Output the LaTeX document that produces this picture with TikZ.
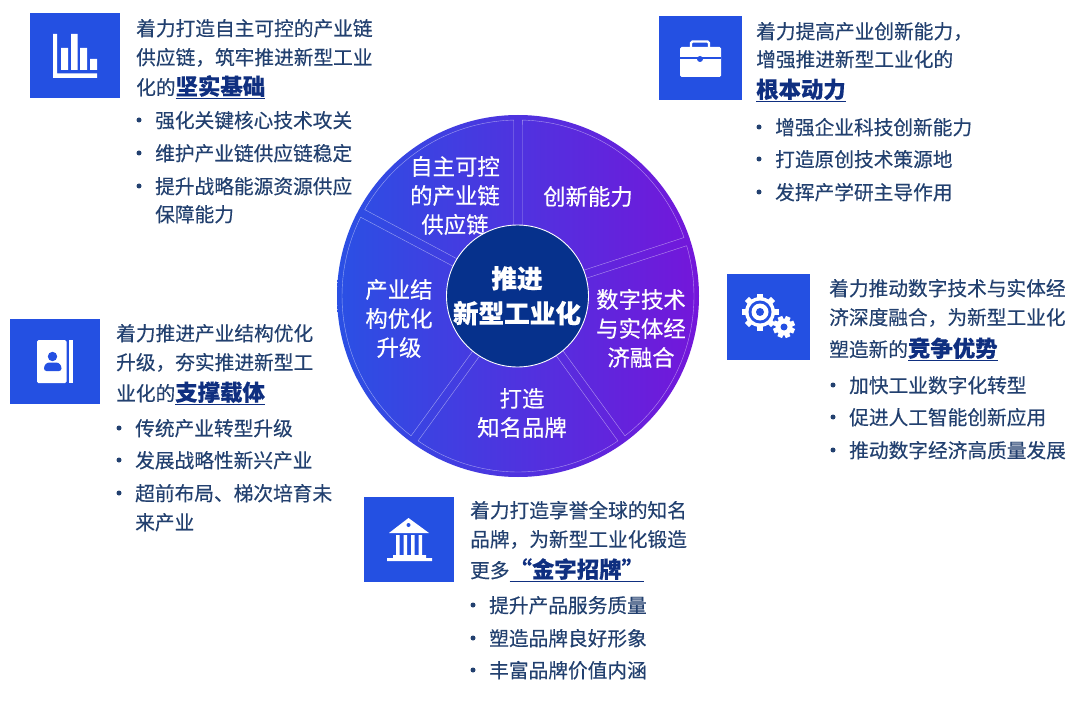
\documentclass[tikz,border=0pt]{standalone}
\usepackage{fontspec}
\setmainfont{Noto Sans CJK SC}[RawFeature={embolden=0.3}]
\definecolor{iconblue}{HTML}{2450E2}
\definecolor{bodytext}{HTML}{22406F}
\definecolor{navy}{HTML}{0F2F80}
\definecolor{corecol}{HTML}{06318C}
\definecolor{wheelL}{HTML}{2A50E4}
\definecolor{wheelR}{HTML}{7416DA}
\newcommand\sz[1]{\fontsize{#1}{#1}\selectfont}
\newcommand\hl[1]{{\color{navy}\bfseries\sz{22.4}\underline{#1}}}
% text line: name, x, centre y, text
\newcommand\tl[4]{\node[bodyline] (#1) at (#2,#3+7.7) {#4};}
% bullet item: name, dot x, centre y, text
\newcommand\bl[4]{\fill[bodytext] (#2,#3) circle (2.5);\node[bodyline] (#1) at (#2+16,#3+7.7) {#4};}
% wheel sector between angles a and b
\newcommand\sector[2]{\draw[sectorline] plot[domain=#1+1.4:#2-1.4,samples=40] ({518+176*cos(\x)},{296-176*sin(\x)}) -- ({518+71*cos(#2-3.4)},{296-71*sin(#2-3.4)}) -- ({518+71*cos(#1+3.4)},{296-71*sin(#1+3.4)}) -- cycle;}
\tikzset{
 bodyline/.style={anchor=base west,inner sep=0pt,text=bodytext,font=\sz{19.7}},
 iconbox/.style={fill=iconblue,draw=none},
 sectorline/.style={draw=white,draw opacity=0.5,line width=0.4pt,line join=round},
 wedgetext/.style={inner sep=0pt,text=white,font=\sz{22.4},anchor=center,text height=17pt,text depth=3pt},
 coretext/.style={inner sep=0pt,text=white,font=\bfseries\sz{25.6},anchor=center,text height=19pt,text depth=3pt},
}
\begin{document}
\begin{tikzpicture}[x=1pt,y=-1pt]
\useasboundingbox (0,0) rectangle (1080,706);
\fill[white] (0,0) rectangle (1080,706);
% wheel
\shade[left color=wheelL,right color=wheelR] (518,296) circle (181);
\sector{90}{152}
\sector{152}{234}
\sector{234}{306}
\sector{306}{378}
\sector{18}{90}
\node[wedgetext] (w1a) at (455,168) {自主可控};
\node[wedgetext] (w1b) at (455,197) {的产业链};
\node[wedgetext] (w1c) at (455,226) {供应链};
\node[wedgetext] (w2) at (588,198) {创新能力};
\node[wedgetext] (w3a) at (641,301) {数字技术};
\node[wedgetext] (w3b) at (641,330) {与实体经};
\node[wedgetext] (w3c) at (641,359) {济融合};
\node[wedgetext] (w4a) at (522,400) {打造};
\node[wedgetext] (w4b) at (522,429) {知名品牌};
\node[wedgetext] (w5a) at (399,291) {产业结};
\node[wedgetext] (w5b) at (399,320) {构优化};
\node[wedgetext] (w5c) at (399,349) {升级};
\filldraw[fill=corecol,draw=white,line width=0.9pt] (517.5,296) circle (71);
\node[coretext] (c1) at (517,280) {推进};
\node[coretext] (c2) at (517,315) {新型工业化};
% icon boxes
\fill[iconbox] (30,13) rectangle (120,98);
\fill[iconbox] (659,16) rectangle (742,100);
\fill[iconbox] (727,274) rectangle (810,360);
\fill[iconbox] (10,319) rectangle (100,404);
\fill[iconbox] (364,497) rectangle (454,582);
% chart icon
\fill[white] (53,34) -- (57,34) -- (57,73.5) -- (97,73.5) -- (97,78) -- (53,78) -- cycle;
\fill[white] (61,48) rectangle (68,70) (71,34) rectangle (77.5,70) (80,48) rectangle (87,70) (90,59) rectangle (97,70);
% briefcase icon
\fill[white,rounded corners=1.5pt] (680,47) rectangle (721,77);
\draw[white,line width=2.4pt,rounded corners=1.5pt] (691,47) -- (691,41.5) -- (709,41.5) -- (709,47);
\draw[iconblue,line width=1.1pt] (680,58) -- (721,58);
\fill[iconblue] (700,59) circle (3);
% gear icons
\foreach \a in {0,45,...,315}{\fill[white,rotate around={\a:(760,312)}] (757,293.5) rectangle (763,300);}
\fill[white] (760,312) circle (15);
\fill[iconblue] (760,312) circle (11.5);
\fill[white] (760,312) circle (8.5);
\fill[iconblue] (760,312) circle (4);
\foreach \a in {22,67,...,337}{\fill[white,rotate around={\a:(784,327)}] (781.5,316) rectangle (786.5,322);}
\fill[white] (784,327) circle (8.5);
\fill[iconblue] (784,327) circle (3.5);
% contact book icon
\fill[white,rounded corners=1.5pt] (37,340) rectangle (66.5,383);
\fill[white] (68.5,340) rectangle (73,383);
\fill[iconblue] (52.5,356.5) circle (4.7);
\fill[iconblue,rounded corners=2.5pt] (44,371) -- (44,366) -- (47,362.5) -- (58.5,362.5) -- (61.5,366) -- (61.5,371) -- cycle;
% bank icon
\fill[white,line join=round] (408.5,518) -- (429,533) -- (389,533) -- cycle;
\fill[iconblue] (408.5,525) circle (2);
\fill[white] (396,535) rectangle (399.5,555) (403.5,535) rectangle (407,555) (411,535) rectangle (414.5,555) (418.5,535) rectangle (422,555);
\fill[white] (393,555) rectangle (426,558) (387,558) rectangle (432,561);
% block 1
\tl{a1}{136}{28}{着力打造自主可控的产业链}
\tl{a2}{136}{57}{供应链，筑牢推进新型工业}
\tl{a3}{136}{87}{化的\hl{坚实基础}}
\bl{a4}{139}{120}{强化关键核心技术攻关}
\bl{a5}{139}{153}{维护产业链供应链稳定}
\bl{a6}{139}{186}{提升战略能源资源供应}
\tl{a7}{155}{214}{保障能力}
% block 2
\tl{b1}{756}{31}{着力提高产业创新能力，}
\tl{b2}{756}{59}{增强推进新型工业化的}
\tl{b3}{756}{90}{\hl{根本动力}}
\bl{b4}{759}{127}{增强企业科技创新能力}
\bl{b5}{759}{159}{打造原创技术策源地}
\bl{b6}{759}{192}{发挥产学研主导作用}
% block 3
\tl{d1}{829}{288}{着力推动数字技术与实体经}
\tl{d2}{829}{317}{济深度融合，为新型工业化}
\tl{d3}{829}{349}{塑造新的\hl{竞争优势}}
\bl{d4}{833}{385}{加快工业数字化转型}
\bl{d5}{833}{417}{促进人工智能创新应用}
\bl{d6}{833}{450}{推动数字经济高质量发展}
% block 4
\tl{e1}{116}{333}{着力推进产业结构优化}
\tl{e2}{116}{362}{升级，夯实推进新型工}
\tl{e3}{116}{393}{业化的\hl{支撑载体}}
\bl{e4}{119}{428}{传统产业转型升级}
\bl{e5}{119}{460}{发展战略性新兴产业}
\bl{e6}{119}{493}{超前布局、梯次培育未}
\tl{e7}{135}{522}{来产业}
% block 5
\tl{f1}{470}{510}{着力打造享誉全球的知名}
\tl{f2}{470}{539}{品牌，为新型工业化锻造}
\tl{f3}{470}{570}{更多\hl{“金字招牌”}}
\bl{f4}{473}{605}{提升产品服务质量}
\bl{f5}{473}{638}{塑造品牌良好形象}
\bl{f6}{473}{670}{丰富品牌价值内涵}
\end{tikzpicture}
\end{document}
